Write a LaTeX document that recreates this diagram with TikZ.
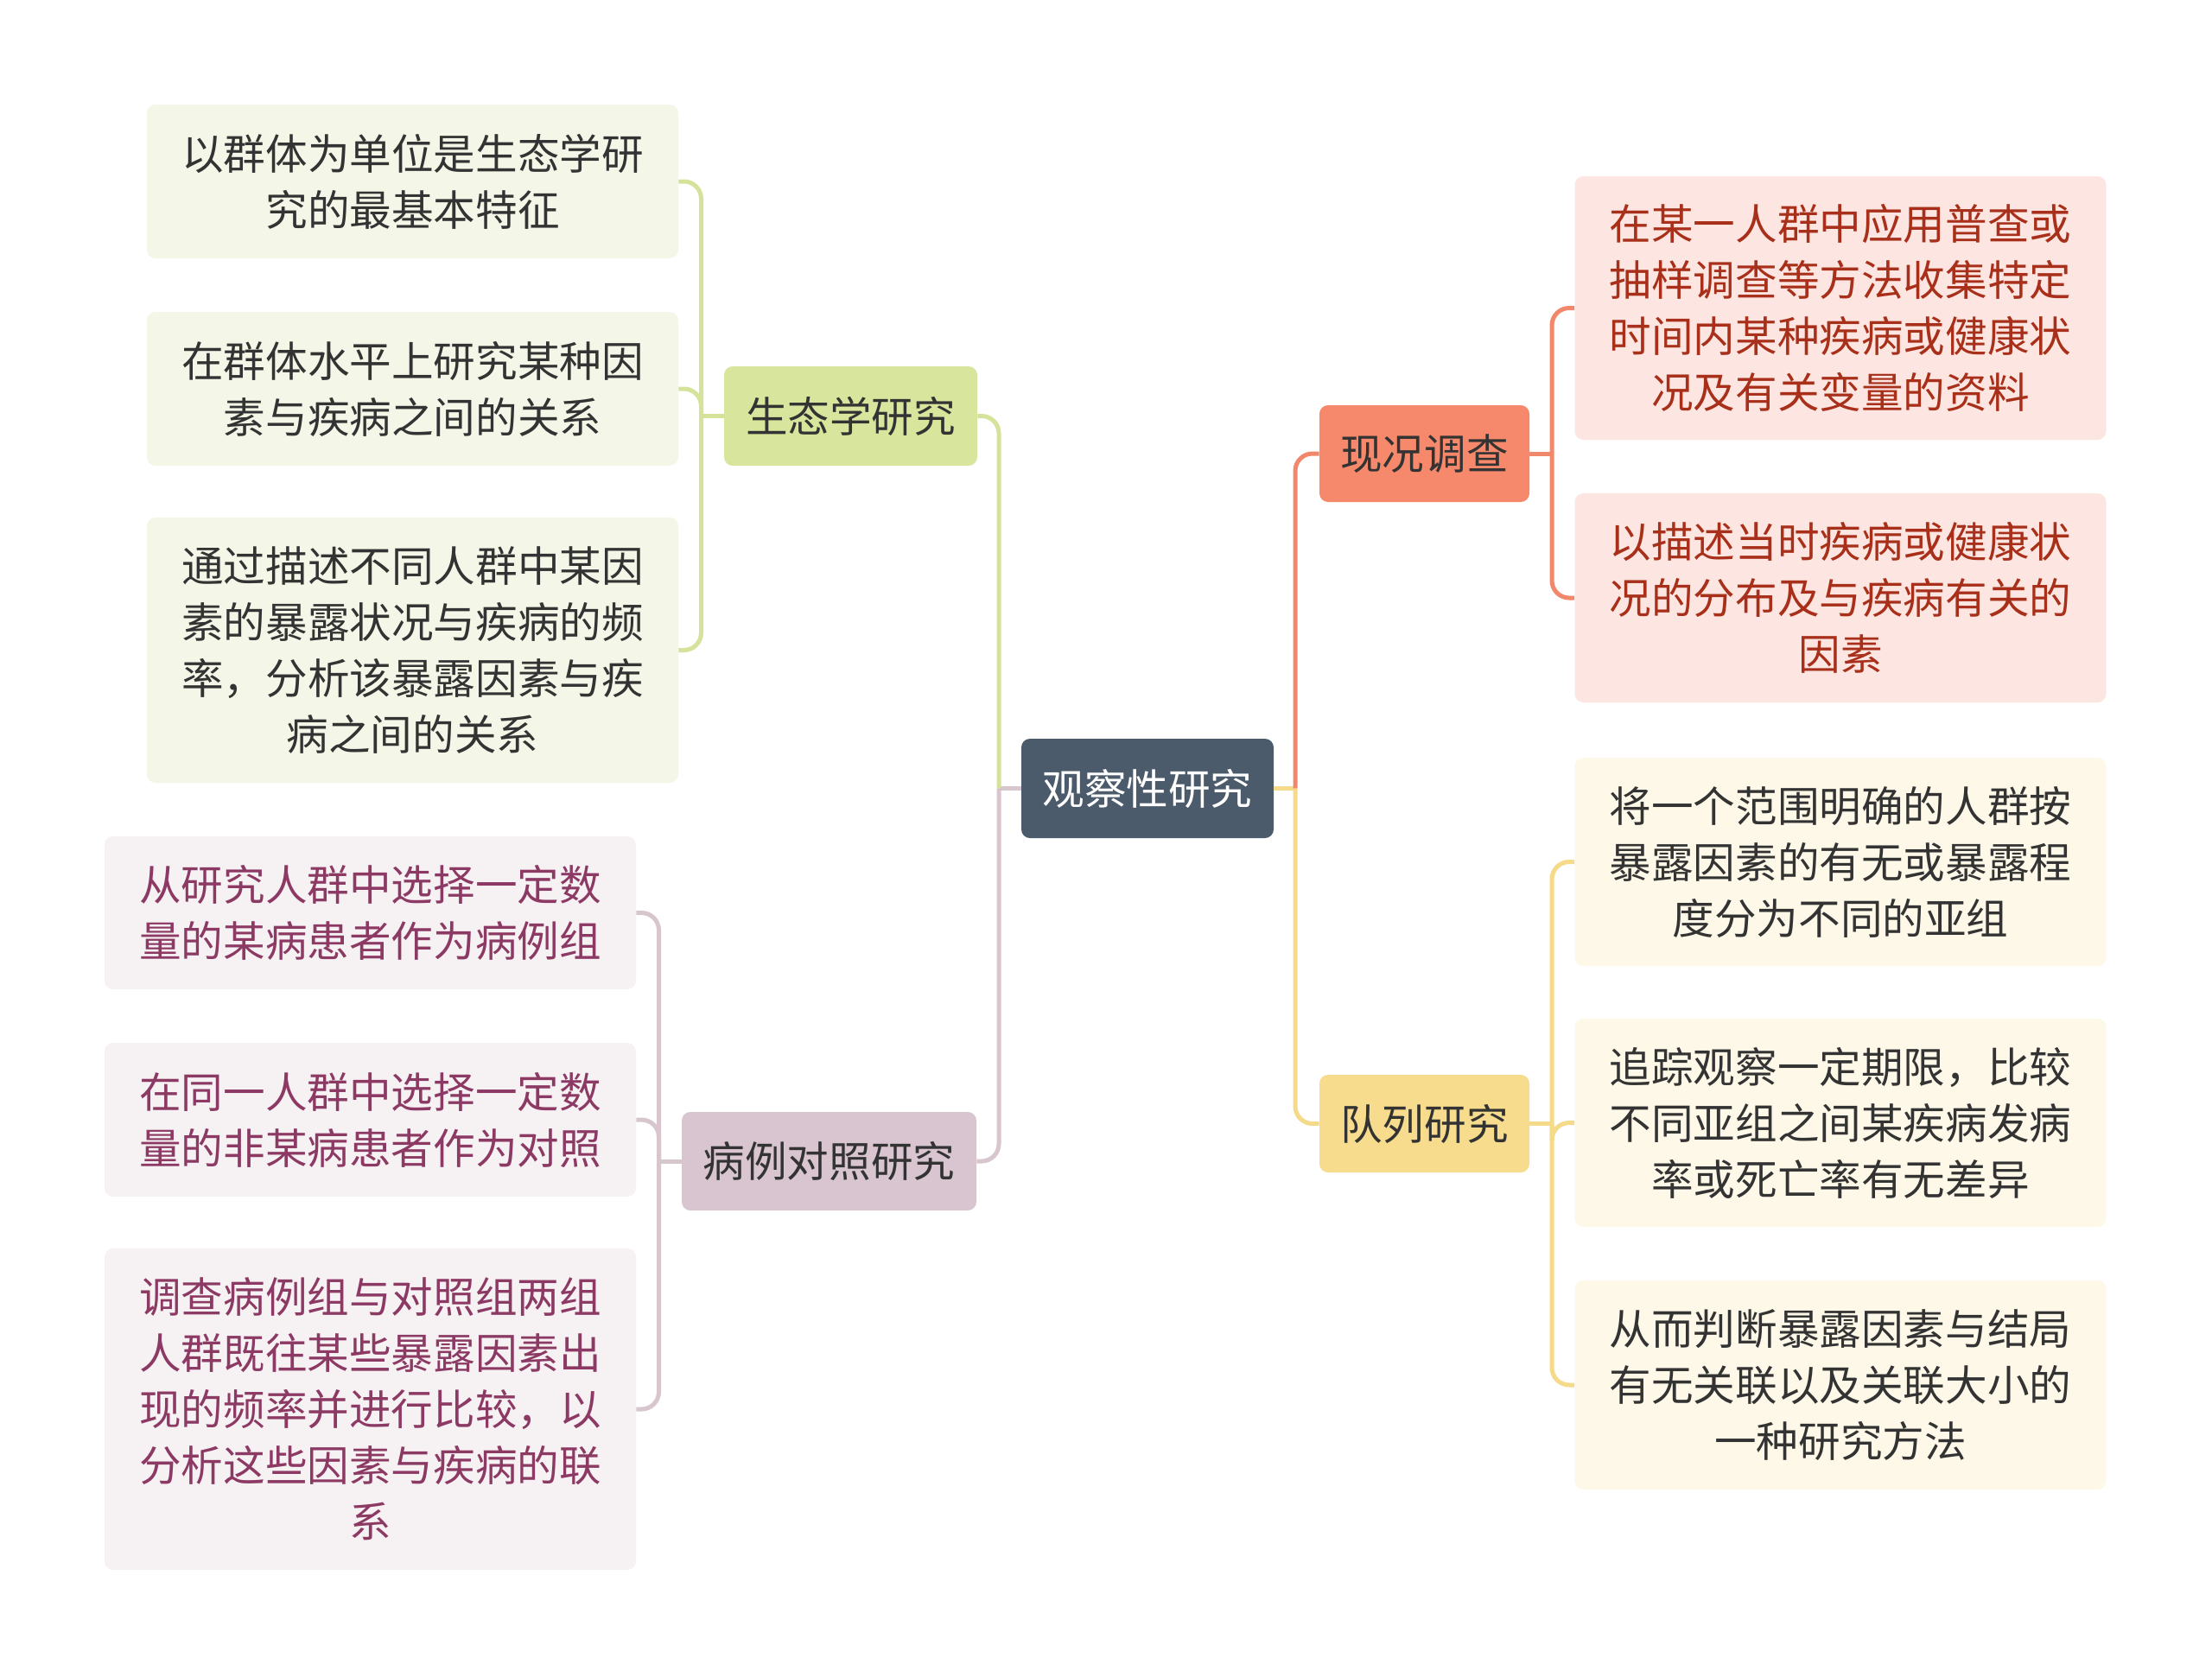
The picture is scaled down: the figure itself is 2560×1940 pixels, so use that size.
\documentclass[tikz,border=0pt]{standalone}
\usepackage{fontspec}
\setmainfont{Noto Sans CJK SC}
\definecolor{rootc}{HTML}{4B5B6B}
\definecolor{ecoc}{HTML}{D8E59C}
\definecolor{casec}{HTML}{D8C5CF}
\definecolor{curc}{HTML}{F6896B}
\definecolor{cohc}{HTML}{F6DC8C}
\definecolor{ecol}{HTML}{D5E39A}
\definecolor{casel}{HTML}{D8C6CF}
\definecolor{curl}{HTML}{F2886B}
\definecolor{cohl}{HTML}{F5DA8A}
\definecolor{ecof}{HTML}{F4F7E7}
\definecolor{casef}{HTML}{F6F1F3}
\definecolor{curf}{HTML}{FDE6E1}
\definecolor{cohf}{HTML}{FDF8E7}
\definecolor{txt}{HTML}{333333}
\definecolor{casetxt}{HTML}{8C3A64}
\definecolor{curtxt}{HTML}{A8301A}
\begin{document}
\begin{tikzpicture}[x=0.5pt,y=-0.5pt,
  box/.style={rounded corners=5pt, inner sep=0pt, align=center,
    font=\fontsize{24.3}{32.5}\selectfont},
  branch/.style={box, text=txt},
  leaf/.style={box, minimum width=307.5pt},
  conn/.style={line width=2.5pt, rounded corners=10pt},
]
\useasboundingbox[fill=white] (0,0) rectangle (2560,1940);

% root
\node[box, fill=rootc, text=white, minimum width=146pt, minimum height=57.5pt] (root) at (1328,912.5) {观察性研究};

% branches
\node[branch, fill=ecoc, minimum width=146.5pt, minimum height=57.5pt] (eco) at (984.5,481.5) {生态学研究};
\node[branch, fill=casec, minimum width=170.5pt, minimum height=57pt] (case) at (959.5,1344) {病例对照研究};
\node[branch, fill=curc, minimum width=121.5pt, minimum height=56pt] (cur) at (1648.5,525) {现况调查};
\node[branch, fill=cohc, minimum width=121.5pt, minimum height=56.5pt] (coh) at (1648.5,1300.5) {队列研究};

% eco leaves
\node[leaf, fill=ecof, text=txt, minimum height=89pt] (L1) at (477.5,210) {以群体为单位是生态学研\\究的最基本特征};
\node[leaf, fill=ecof, text=txt, minimum height=89pt] (L2) at (477.5,450) {在群体水平上研究某种因\\素与疾病之间的关系};
\node[leaf, fill=ecof, text=txt, minimum height=153.5pt] (L3) at (477.5,752.5) {通过描述不同人群中某因\\素的暴露状况与疾病的频\\率，分析该暴露因素与疾\\病之间的关系};

% case leaves
\node[leaf, fill=casef, text=casetxt, minimum height=88.5pt] (C1) at (428.5,1056.5) {从研究人群中选择一定数\\量的某病患者作为病例组};
\node[leaf, fill=casef, text=casetxt, minimum height=89pt] (C2) at (428.5,1296) {在同一人群中选择一定数\\量的非某病患者作为对照};
\node[leaf, fill=casef, text=casetxt, minimum height=186pt] (C3) at (428.5,1631) {调查病例组与对照组两组\\人群既往某些暴露因素出\\现的频率并进行比较，以\\分析这些因素与疾病的联\\系};

% current leaves
\node[leaf, fill=curf, text=curtxt, minimum height=152.5pt] (R1) at (2130,356.5) {在某一人群中应用普查或\\抽样调查等方法收集特定\\时间内某种疾病或健康状\\况及有关变量的资料};
\node[leaf, fill=curf, text=curtxt, minimum height=121pt] (R2) at (2130,692) {以描述当时疾病或健康状\\况的分布及与疾病有关的\\因素};

% cohort leaves
\node[leaf, fill=cohf, text=txt, minimum height=120.5pt] (Q1) at (2130,997.5) {将一个范围明确的人群按\\暴露因素的有无或暴露程\\度分为不同的亚组};
\node[leaf, fill=cohf, text=txt, minimum height=120.5pt] (Q2) at (2130,1299.5) {追踪观察一定期限，比较\\不同亚组之间某疾病发病\\率或死亡率有无差异};
\node[leaf, fill=cohf, text=txt, minimum height=121pt] (Q3) at (2130,1603) {从而判断暴露因素与结局\\有无关联以及关联大小的\\一种研究方法};

% junction coordinates
\coordinate (rootLJ) at (1156,912.5);
\coordinate (rootRJ) at (1499,912.5);
\coordinate (ecoJ) at (811.5,481.5);
\coordinate (caseJ) at (762.5,1344);
\coordinate (curJ) at (1796,525);
\coordinate (cohJ) at (1796,1300.5);

% root to branches
\draw[conn, casel] (rootLJ) -- (root.west);
\draw[conn, cohl] (root.east) -- (rootRJ);
\draw[conn, ecol] (eco.east) -| (rootLJ);
\draw[conn, casel] (case.east) -| (rootLJ);
\draw[conn, curl] (rootRJ) |- (cur.west);
\draw[conn, cohl] (rootRJ) |- (coh.west);

% branches to leaves
\draw[conn, ecol] (eco.west) -- (ecoJ);
\draw[conn, ecol] (ecoJ) |- (L1.east);
\draw[conn, ecol] (ecoJ) |- (L2.east);
\draw[conn, ecol] (ecoJ) |- (L3.east);

\draw[conn, casel] (case.west) -- (caseJ);
\draw[conn, casel] (caseJ) |- (C1.east);
\draw[conn, casel] (caseJ) |- (C2.east);
\draw[conn, casel] (caseJ) |- (C3.east);

\draw[conn, curl] (cur.east) -- (curJ);
\draw[conn, curl] (curJ) |- (R1.west);
\draw[conn, curl] (curJ) |- (R2.west);

\draw[conn, cohl] (coh.east) -- (cohJ);
\draw[conn, cohl] (cohJ) |- (Q1.west);
\draw[conn, cohl] (cohJ) |- (Q2.west);
\draw[conn, cohl] (cohJ) |- (Q3.west);
\end{tikzpicture}
\end{document}
